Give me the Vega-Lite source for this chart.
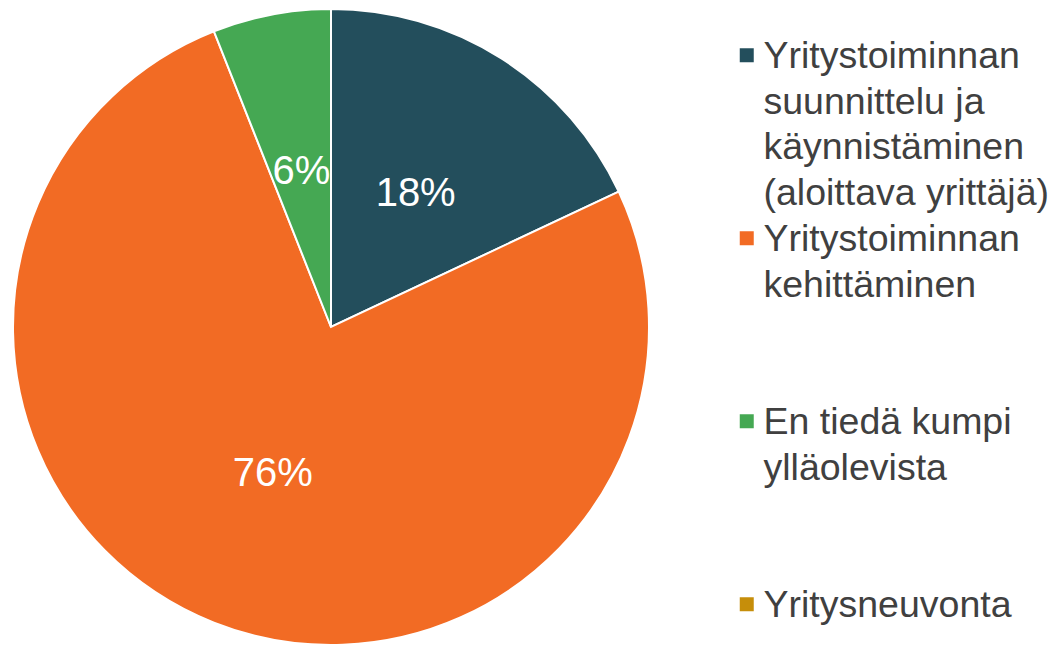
{
  "$schema": "https://vega.github.io/schema/vega-lite/v6.json",
  "width": 662,
  "height": 654,
  "padding": 0,
  "background": "white",
  "view": {"stroke": null},
  "config": {"style": {"guide-label": {"lineHeight": 45.5}}},
  "data": {"values": [
    {"category": "Yritystoiminnan suunnittelu ja käynnistäminen (aloittava yrittäjä)", "share": 0.18, "rank": 1},
    {"category": "Yritystoiminnan kehittäminen", "share": 0.76, "rank": 2},
    {"category": "En tiedä kumpi ylläolevista", "share": 0.06, "rank": 3},
    {"category": "Yritysneuvonta", "share": 0, "rank": 4}
  ]},
  "encoding": {
    "theta": {"field": "share", "type": "quantitative", "stack": true},
    "order": {"field": "rank", "type": "quantitative"}
  },
  "layer": [
    {
      "mark": {"type": "arc", "outerRadius": 318, "stroke": "white", "strokeWidth": 2},
      "encoding": {
        "color": {
          "field": "category",
          "type": "nominal",
          "scale": {
            "domain": ["Yritystoiminnan suunnittelu ja käynnistäminen (aloittava yrittäjä)", "Yritystoiminnan kehittäminen", "En tiedä kumpi ylläolevista", "Yritysneuvonta"],
            "range": ["#234E5C", "#F26B24", "#45A853", "#C68E0A"]
          },
          "legend": {
            "orient": "none",
            "legendX": 728,
            "legendY": 49.5,
            "title": null,
            "symbolType": "M-1,-2.857H1V-0.857H-1Z",
            "symbolSize": 196,
            "symbolStrokeWidth": 0,
            "labelFont": "Liberation Sans",
            "labelFontSize": 37.5,
            "labelColor": "#404040",
            "labelLimit": 0,
            "labelOffset": -2,
            "labelBaseline": "alphabetic",
            "gridAlign": "all",
            "rowPadding": 8,
            "padding": 0,
            "labelExpr": "datum.label == 'Yritystoiminnan suunnittelu ja käynnistäminen (aloittava yrittäjä)' ? ['Yritystoiminnan', 'suunnittelu ja', 'käynnistäminen', '(aloittava yrittäjä)'] : datum.label == 'Yritystoiminnan kehittäminen' ? ['Yritystoiminnan', 'kehittäminen'] : datum.label == 'En tiedä kumpi ylläolevista' ? ['En tiedä kumpi', 'ylläolevista'] : datum.label"
          }
        }
      }
    },
    {
      "transform": [{"filter": "datum.share > 0"}],
      "mark": {"type": "text", "radius": 158, "fontSize": 40, "font": "Liberation Sans", "fill": "white"},
      "encoding": {
        "detail": {"field": "category", "type": "nominal"},
        "text": {"field": "share", "type": "quantitative", "format": ".0%"}
      }
    }
  ]
}
